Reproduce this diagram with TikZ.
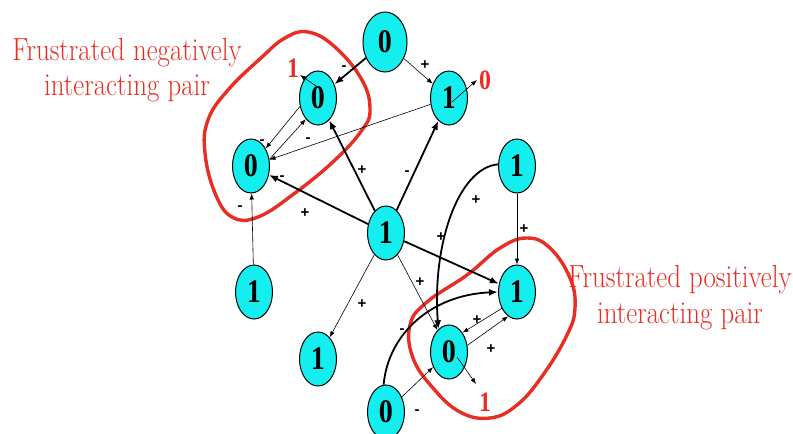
\documentclass[tikz,border=0pt]{standalone}
\usepackage{fontspec}
\usepackage{graphicx}
\newfontfamily\digitfont{Liberation Serif}
\newfontfamily\labfont{Liberation Sans}
\usetikzlibrary{arrows.meta,shapes.geometric}
\definecolor{nodecyan}{RGB}{20,238,238}
\definecolor{blobred}{RGB}{232,46,36}
\newcommand{\sq}[1]{\scalebox{0.85}[1]{#1}}
\newcommand{\sqt}[1]{\scalebox{0.84}[1]{#1}}
\begin{document}
\begin{tikzpicture}[x=1pt,y=-1pt,
  statenode/.style={ellipse,draw,fill=nodecyan,line width=1pt,minimum width=37pt,minimum height=54pt,inner sep=0pt,
    font=\digitfont\bfseries\fontsize{33}{33}\selectfont},
  bignode/.style={statenode,minimum width=44pt,minimum height=60pt},
  sgn/.style={font=\labfont\bfseries\fontsize{15}{15}\selectfont,inner sep=0pt},
  redlab/.style={text=blobred,font=\digitfont\bfseries\fontsize{28}{28}\selectfont,inner sep=0pt},
  captxt/.style={text=blobred,font=\fontsize{32}{32}\selectfont,inner sep=0pt,anchor=base},
  strong/.style={line width=1.8pt,-{Latex[length=9pt,width=7pt]}},
  weak/.style={line width=0.6pt,-{Latex[length=6pt,width=4.5pt]}},
  blob/.style={draw=blobred,line width=3.4pt}]
\useasboundingbox (0,0) rectangle (793,434);

% nodes
\node[bignode] (T) at (385,42) {\sq{0}};
\node[statenode] (N1) at (318,98) {\sq{0}};
\node[statenode] (N2) at (251,166) {\sq{0}};
\node[statenode] (R) at (449,98) {\sq{1}};
\node[statenode] (C) at (386,233) {\sq{1}};
\node[statenode] (RR) at (517,166) {\sq{1}};
\node[statenode] (P1) at (517,292) {\sq{1}};
\node[statenode] (P2) at (449,352) {\sq{0}};
\node[statenode] (B) at (386,412) {\sq{0}};
\node[statenode] (LB) at (254,292) {\sq{1}};
\node[statenode] (BM) at (318,359) {\sq{1}};

% red blobs
\draw[blob] plot[smooth cycle,tension=0.7] coordinates {
  (308,32) (335,47) (362,80) (370,110) (362,130) (335,160) (295,193)
  (258,217) (232,217) (215,193) (205,153) (208,120) (228,90) (262,57) (285,38)};
\draw[blob] plot[smooth cycle,tension=0.7] coordinates {
  (527,238) (550,248) (570,278) (575,308) (567,335) (543,375) (517,405)
  (490,418) (460,412) (433,388) (413,358) (410,325) (427,302) (467,275) (500,248)};

% captions
\node[captxt] (capA1) at (127,60) {\sqt{Frustrated negatively}};
\node[captxt] (capA2) at (127,95) {\sqt{interacting pair}};
\node[captxt] (capB1) at (680,287) {\sqt{Frustrated positively}};
\node[captxt] (capB2) at (680,323) {\sqt{interacting pair}};

% edges
\draw[strong] (T) -- (N1);
\draw[weak] (T) -- (R);
\draw[weak] (N1.205) -- (N2.50);
\draw[weak] (N2.20) -- (N1.240);
\draw[weak] (R) -- (N2);
\draw[strong] (C) -- (N1);
\draw[strong] (C) -- (R);
\draw[strong] (C) -- (N2);
\draw[strong] (C) -- (P1);
\draw[weak] (C) -- (P2);
\draw[weak] (C) -- (BM);
\draw[weak] (LB) -- (N2);
\draw[strong] (RR.175) .. controls (458,168) and (432,245) .. (P2.115);
\draw[weak] (RR) -- (P1);
\draw[strong] (B.95) .. controls (388,335) and (430,295) .. (P1.180);
\draw[weak] (B) -- (P2);
\draw[weak] (P1.227) -- (P2.55);
\draw[weak] (P2.20) -- (P1.250);

% self flips
\coordinate (n1s) at (319,88);
\coordinate (n1e) at (300,75);
\coordinate (rs) at (452,102);
\coordinate (re) at (477,80);
\coordinate (p2s) at (457,357);
\coordinate (p2e) at (476,384);
\draw[weak] (n1s) -- (n1e);
\draw[weak] (rs) -- (re);
\draw[weak] (p2s) -- (p2e);
\node[redlab] (f1) at (293,68) {\sq{1}};
\node[redlab] (f2) at (485,80) {\sq{0}};
\node[redlab] (f3) at (485,402) {\sq{1}};

% signs
\node[sgn] (s1) at (344,68) {-};
\node[sgn] (s2) at (425,65) {+};
\node[sgn] (s3) at (262,142) {-};
\node[sgn] (s4) at (308,140) {-};
\node[sgn] (s5) at (282,178) {-};
\node[sgn] (s6) at (240,208) {-};
\node[sgn] (s7) at (305,213) {+};
\node[sgn] (s8) at (362,170) {+};
\node[sgn] (s9) at (407,173) {-};
\node[sgn] (s10) at (476,200) {+};
\node[sgn] (s11) at (524,229) {+};
\node[sgn] (s12) at (441,237) {+};
\node[sgn] (s13) at (420,282) {+};
\node[sgn] (s14) at (362,304) {+};
\node[sgn] (s15) at (402,331) {-};
\node[sgn] (s16) at (477,320) {+};
\node[sgn] (s17) at (491,349) {+};
\node[sgn] (s18) at (417,412) {-};
\end{tikzpicture}
\end{document}
